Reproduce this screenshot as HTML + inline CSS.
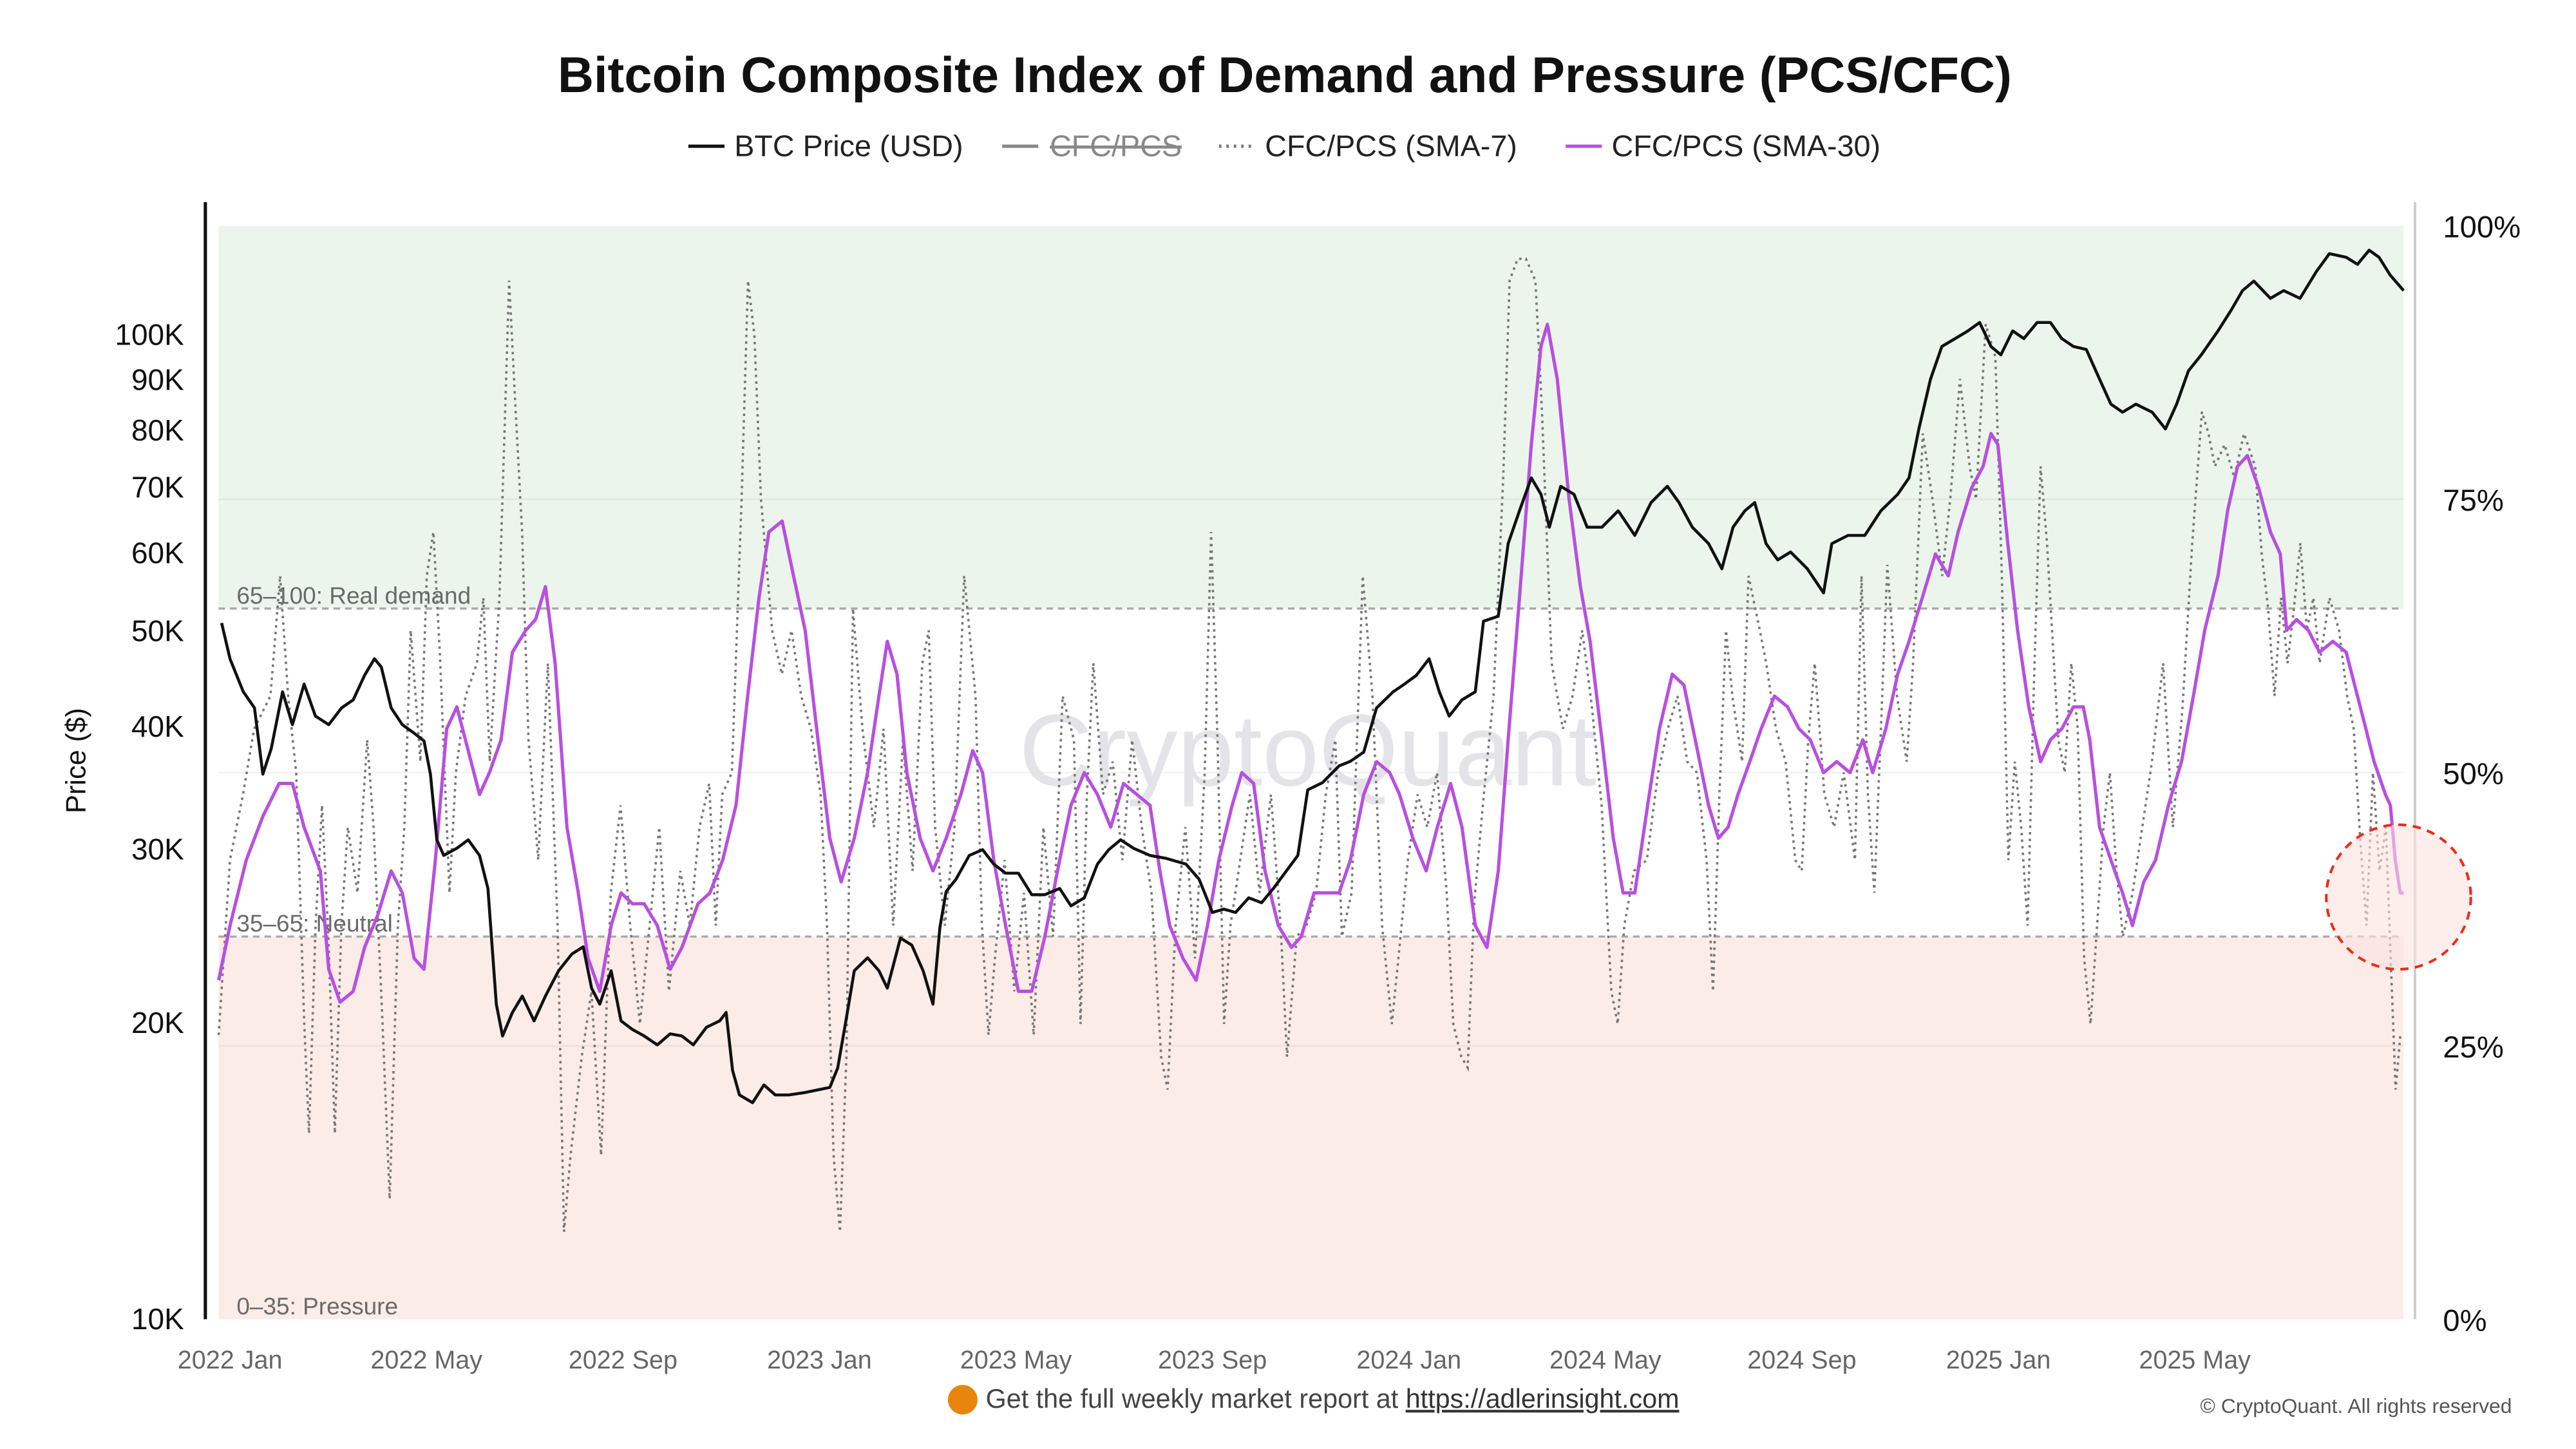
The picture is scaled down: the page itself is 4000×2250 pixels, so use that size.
<!DOCTYPE html>
<html><head><meta charset="utf-8"><style>
html,body{margin:0;padding:0;background:#fff;}
svg{display:block;font-family:"Liberation Sans",Arial,sans-serif;}
</style></head><body>
<svg id="chart" width="4000" height="2250" viewBox="0 0 1568 882" xmlns="http://www.w3.org/2000/svg">
<rect x="0" y="0" width="1568" height="882" fill="#fff"/>
<text x="782" y="56" text-anchor="middle" font-size="30.4" font-weight="bold" fill="#111">Bitcoin Composite Index of Demand and Pressure (PCS/CFC)</text>
<g font-size="18.3" fill="#222">
 <g><line x1="419" y1="89" x2="441" y2="89" stroke="#111" stroke-width="2"/><text x="447" y="95">BTC Price (USD)</text></g>
 <g><line x1="610" y1="89" x2="632" y2="89" stroke="#888" stroke-width="2"/><text x="639" y="95" fill="#888" text-decoration="line-through">CFC/PCS</text></g>
 <g><line x1="742" y1="89" x2="764" y2="89" stroke="#777" stroke-width="2" stroke-dasharray="1.5,3"/><text x="770" y="95">CFC/PCS (SMA-7)</text></g>
 <g><line x1="953" y1="89" x2="975" y2="89" stroke="#b84fe0" stroke-width="2"/><text x="981" y="95">CFC/PCS (SMA-30)</text></g>
</g>
<g id="zones"></g>
<text x="796" y="478" text-anchor="middle" font-size="62" fill="#e4e4e8">CryptoQuant</text>
<g id="plot"></g>
<g id="axes"></g>
<g><circle cx="1460" cy="546" r="44" fill="#fbe3e0" fill-opacity="0.6" stroke="#ee2a1a" stroke-width="1.6" stroke-dasharray="5,4"/></g>
<circle cx="586" cy="852" r="9" fill="#e8850c"/>
<text x="600" y="857" font-size="16.2" fill="#444">Get the full weekly market report at <tspan text-decoration="underline" fill="#333">https://adlerinsight.com</tspan></text>
<text x="1529" y="860" text-anchor="end" font-size="12.5" fill="#555">© CryptoQuant. All rights reserved</text>
</svg>
<script>
// BTC price (K USD) by month index (0 = 2022 Jan)
const btcMonths=[-0.17,0,0.27,0.5,0.67,0.84,1.07,1.27,1.51,1.74,2.01,2.27,2.51,2.74,2.94,3.08,3.28,3.51,3.75,3.95,4.08,4.21,4.35,4.62,4.85,5.08,5.25,5.42,5.55,5.75,5.95,6.19,6.42,6.69,6.96,7.19,7.36,7.53,7.76,7.96,8.19,8.43,8.7,8.96,9.2,9.43,9.7,9.97,10.1,10.23,10.37,10.64,10.87,11.1,11.37,11.71,12.21,12.37,12.54,12.71,12.98,13.21,13.38,13.65,13.88,14.11,14.31,14.45,14.58,14.78,15.05,15.32,15.55,15.79,16.05,16.32,16.59,16.89,17.12,17.39,17.66,17.89,18.13,18.39,18.73,19.06,19.46,19.73,20,20.23,20.47,20.74,21,21.24,21.47,21.74,21.94,22.24,22.58,22.81,23.08,23.34,23.68,23.91,24.15,24.41,24.62,24.82,25.08,25.35,25.52,25.82,26.02,26.25,26.49,26.69,26.86,27.09,27.36,27.63,27.93,28.26,28.6,28.93,29.26,29.5,29.77,30.1,30.37,30.6,30.84,31.04,31.27,31.51,31.77,32.11,32.44,32.61,32.94,33.28,33.61,33.95,34.18,34.38,34.62,34.85,35.12,35.38,35.62,35.85,36.05,36.29,36.52,36.79,37.06,37.29,37.53,37.79,38.06,38.29,38.53,38.8,39.13,39.4,39.63,39.87,40.13,40.47,40.74,40.97,41.2,41.54,41.81,42.14,42.47,42.74,43.08,43.31,43.55,43.75,43.98,44.25];
const btcPrice=[51,46.9,43.4,41.8,35.8,38,43.4,40.2,44.2,41,40.2,41.8,42.6,45.1,46.9,46,41.8,40.2,39.4,38.7,35.8,30.7,29.6,30.1,30.7,29.6,27.4,20.9,19.4,20.5,21.3,20.1,21.3,22.6,23.5,23.9,21.7,20.9,22.6,20.1,19.7,19.4,19,19.5,19.4,19,19.8,20.1,20.5,17.9,16.9,16.6,17.3,16.9,16.9,17,17.2,18,20.1,22.6,23.3,22.6,21.7,24.4,24,22.6,20.9,25,27.2,28,29.6,30,29,28.4,28.4,27,27,27.4,26.3,26.8,29,30,30.7,30.1,29.6,29.4,29,28,25.9,26.1,25.9,26.8,26.5,27.4,28.4,29.6,34.5,35.1,36.5,36.9,37.7,41.8,43.4,44.2,45.1,46.9,43.4,41,42.6,43.4,51.2,51.8,61.4,66.3,71.6,68.9,63.8,70.2,68.9,63.8,63.8,66.3,62.6,67.6,70.2,67.6,63.8,61.4,57.9,63.8,66.3,67.6,61.4,59.1,60.2,57.9,54.7,61.4,62.6,62.6,66.3,68.9,71.6,80.3,90.2,97.4,99.2,101,103,97.4,95.5,101,99.2,103,103,99.2,97.4,96.7,90.2,85.1,83.5,85.1,83.5,80.3,85.1,92,95.5,101,106,111,113.5,109,111,109,116,121,120,118,122,120,115,111];
// CFC/PCS SMA-30 (%)
const sma30Months=[-0.23,0,0.33,0.67,1,1.27,1.51,1.84,2.01,2.24,2.51,2.74,3.01,3.28,3.51,3.75,3.95,4.18,4.41,4.62,4.85,5.08,5.28,5.52,5.75,6.02,6.22,6.42,6.62,6.86,7.09,7.29,7.53,7.76,7.96,8.19,8.43,8.7,8.96,9.2,9.53,9.77,10.03,10.3,10.54,10.77,10.97,11.24,11.47,11.71,11.97,12.21,12.44,12.71,12.98,13.21,13.38,13.58,13.78,14.05,14.31,14.58,14.88,15.12,15.32,15.55,15.79,16.05,16.32,16.59,16.89,17.12,17.39,17.66,17.93,18.19,18.46,18.73,18.93,19.13,19.4,19.67,19.9,20.13,20.4,20.6,20.84,21.07,21.34,21.61,21.81,22.07,22.34,22.58,22.81,23.08,23.34,23.61,23.81,24.08,24.35,24.58,24.85,25.08,25.35,25.59,25.82,26.02,26.25,26.49,26.69,26.82,27.02,27.26,27.49,27.69,27.93,28.16,28.36,28.6,28.86,29.1,29.36,29.6,29.83,30.1,30.3,30.5,30.7,30.94,31.17,31.44,31.71,31.94,32.17,32.44,32.71,32.98,33.24,33.44,33.71,33.95,34.18,34.45,34.72,34.98,35.18,35.45,35.69,35.85,35.99,36.19,36.39,36.62,36.86,37.06,37.29,37.53,37.73,37.86,38.06,38.29,38.53,38.73,38.96,39.2,39.46,39.73,39.97,40.2,40.47,40.67,40.87,41.07,41.3,41.54,41.74,41.87,42.07,42.31,42.54,42.81,43.08,43.31,43.48,43.65,43.88,43.98,44.08,44.18,44.25];
const sma30Values=[31,36,42,46,49,49,45,41,32,29,30,34,37,41,39,33,32,42,54,56,52,48,50,53,61,63,64,67,60,45,39,33,30,36,39,38,38,36,32,34,38,39,42,47,57,66,72,73,68,63,53,44,40,44,50,57,62,59,50,44,41,44,48,52,50,42,36,30,30,35,42,47,50,48,45,49,48,47,41,36,33,31,36,42,47,50,49,41,36,34,35,39,39,39,42,48,51,50,48,44,41,45,49,45,36,34,41,53,66,80,89,91,86,75,67,62,53,44,39,39,47,54,59,58,53,47,44,45,48,51,54,57,56,54,53,50,51,50,53,50,54,59,62,66,70,68,72,76,78,81,80,71,63,56,51,53,54,56,56,53,45,42,39,36,40,42,47,51,57,63,68,74,78,79,76,72,70,63,64,63,61,62,61,57,54,51,48,47,42,39,39];
// CFC/PCS SMA-7 (%) by day (0 = 2022-01-01)
const sma7Days=[-7,0,8,15,25,31,36,41,46,49,53,57,61,65,69,73,79,85,89,94,99,104,108,112,118,122,126,130,136,140,146,153,157,161,167,173,177,181,185,191,197,203,207,211,218,224,230,236,242,248,254,260,266,272,279,285,291,297,301,305,311,317,321,325,329,336,342,348,354,360,366,370,374,378,382,386,392,399,405,411,417,423,429,433,437,443,449,455,462,466,470,474,480,486,492,498,504,510,516,523,527,531,535,541,547,553,559,565,571,577,581,586,592,598,604,608,612,616,620,626,632,638,645,651,655,661,667,673,679,685,689,695,702,708,714,720,724,730,736,742,748,754,758,763,767,771,777,783,789,793,798,803,809,813,819,826,832,838,844,850,856,860,864,870,878,885,891,897,903,909,915,919,923,927,931,937,941,948,952,958,964,970,974,978,982,988,994,1000,1007,1011,1015,1019,1023,1027,1033,1039,1043,1049,1055,1061,1066,1072,1078,1082,1088,1094,1098,1102,1106,1110,1114,1118,1122,1126,1133,1137,1141,1145,1149,1153,1157,1161,1165,1169,1173,1179,1185,1191,1198,1204,1210,1216,1222,1226,1230,1236,1242,1248,1255,1259,1263,1267,1271,1275,1279,1283,1287,1291,1295,1301,1307,1312,1316,1320,1324,1328,1332,1336,1339,1342,1345];
const sma7Values=[26,42,48,54,57,68,57,50,27,17,36,47,35,17,36,45,39,53,45,29,11,36,45,63,51,68,72,61,39,50,57,60,66,51,66,95,83,72,53,42,60,36,8,15,24,30,15,39,47,36,27,36,45,30,41,36,45,49,36,48,50,75,95,90,75,63,59,63,57,54,48,36,15,8,24,65,54,45,54,36,53,41,60,63,45,36,45,68,57,36,26,33,42,30,39,26,45,35,57,53,27,48,60,48,51,42,53,45,39,24,21,36,45,33,50,72,53,27,36,42,48,39,48,36,24,35,36,39,48,53,35,39,68,57,36,27,33,42,48,45,50,39,27,24,23,38,48,57,77,95,97,97,95,83,60,54,57,63,56,47,30,27,36,41,42,50,54,57,51,50,42,30,48,63,57,51,68,63,60,54,51,42,41,53,60,48,45,50,42,68,48,39,54,69,57,51,60,81,75,68,75,86,78,75,91,88,68,42,51,45,36,59,78,71,53,50,60,54,33,27,36,45,50,41,35,39,45,51,60,45,56,71,83,81,78,80,77,81,78,70,65,57,66,60,65,71,63,66,60,66,63,57,54,44,36,50,41,45,33,21,26];
// axis ticks
const priceTicks=[10,20,30,40,50,60,70,80,90,100];
const pctTicks=[0,25,50,75,100];
const monthTickLabels=["2022 Jan","2022 May","2022 Sep","2023 Jan","2023 May","2023 Sep","2024 Jan","2024 May","2024 Sep","2025 Jan","2025 May"];
const monthTickIndex=[0,4,8,12,16,20,24,28,32,36,40];
const zoneBounds=[0,35,65,100];
const zoneLabels=["0–35: Pressure","35–65: Neutral","65–100: Real demand"];

const NS="http://www.w3.org/2000/svg";
const X0=133,X1=1463,YT=137.5,YB=803;
const xM=m=>140+29.9*m;
const xD=d=>xM(d/30.44);
const yPrice=k=>YB-(Math.log10(k)-1)*599;
const yPct=v=>YB-(v/100)*(YB-YT);
function mk(tag,attrs,parent){const e=document.createElementNS(NS,tag);for(const k in attrs)e.setAttribute(k,attrs[k]);parent.appendChild(e);return e;}
const zones=document.getElementById('zones'),plot=document.getElementById('plot'),axes=document.getElementById('axes');
const zoneFill=["#fbece8","#ffffff","#ebf5ec"];
for(let i=0;i<3;i++){
 const r=mk('rect',{x:X0,y:yPct(zoneBounds[i+1]),width:X1-X0,height:yPct(zoneBounds[i])-yPct(zoneBounds[i+1]),fill:zoneFill[i]},zones);
 
 
 const t=mk('text',{x:144,y:yPct(zoneBounds[i])-3,'font-size':14.5,fill:'#6a6a6a'},zones);
 t.textContent=zoneLabels[i];
 
 
}
for(const v of [25,50,75]){const g=mk('line',{x1:X0,x2:X1,y1:yPct(v),y2:yPct(v),stroke:'#000','stroke-opacity':0.05,'stroke-width':1},zones);
 
 }
for(const v of [35,65]){const g=mk('line',{x1:X0,x2:X1,y1:yPct(v),y2:yPct(v),stroke:'#a8a8a8','stroke-width':1.3,'stroke-dasharray':'4,3'},zones);
 
 }
function pathOf(xs,ys,fx,fy){return xs.map((t,i)=>(i?'L':'M')+fx(t).toFixed(1)+','+fy(ys[i]).toFixed(1)).join('');}
const p7=mk('path',{d:pathOf(sma7Days,sma7Values,xD,yPct),fill:'none',stroke:'#777','stroke-width':1.4,'stroke-dasharray':'1.5,2.5'},plot);


const p30=mk('path',{d:pathOf(sma30Months,sma30Values,xM,yPct),fill:'none',stroke:'#b84fe0','stroke-width':2,'stroke-linejoin':'round'},plot);


const pb=mk('path',{d:pathOf(btcMonths,btcPrice,xM,yPrice),fill:'none',stroke:'#111','stroke-width':1.8,'stroke-linejoin':'round'},plot);


// axes
const la=mk('line',{x1:125,x2:125,y1:123,y2:803,stroke:'#111','stroke-width':2},axes);


const ra=mk('line',{x1:1470,x2:1470,y1:123,y2:803,stroke:'#ccc','stroke-width':1.5},axes);


for(const k of priceTicks){const t=mk('text',{x:112,y:yPrice(k)+6,'text-anchor':'end','font-size':18,fill:'#111'},axes);
 t.textContent=k+'K';
 
 }
for(const v of pctTicks){const t=mk('text',{x:1487,y:yPct(v)+7,'font-size':18.5,fill:'#111'},axes);
 t.textContent=v+'%';
 
 }
monthTickIndex.forEach((m,i)=>{const t=mk('text',{x:xM(m),y:833,'text-anchor':'middle','font-size':15.5,fill:'#666'},axes);
 t.textContent=monthTickLabels[i];
 
 });
const yt=mk('text',{x:0,y:0,transform:'translate(52,463) rotate(-90)','text-anchor':'middle','font-size':17,fill:'#111'},axes);
yt.textContent='Price ($)';


</script>
</body></html>
